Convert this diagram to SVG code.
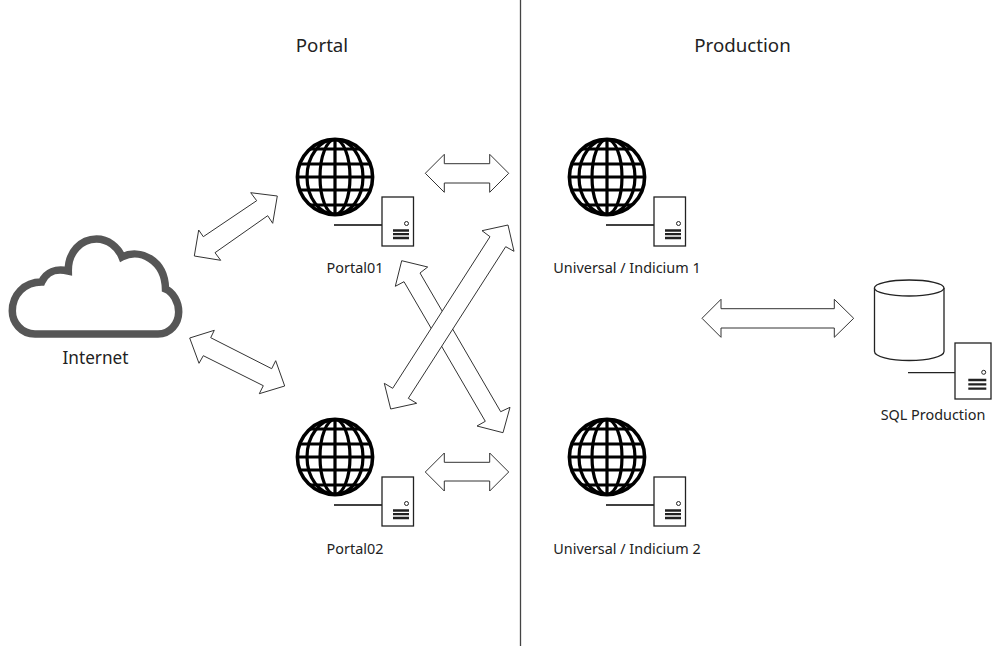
<svg xmlns="http://www.w3.org/2000/svg" width="994" height="646" viewBox="0 0 994 646">
<style>
text{font-family:"Noto Sans","Open Sans",sans-serif;fill:#222;text-anchor:middle}
.lbl{font-size:14.4px}
.hdr{font-size:18.7px}
.arr{fill:#fff;stroke:#333;stroke-width:1}
.g{fill:none;stroke:#000;stroke-width:3.2}
.o{fill:none;stroke:#000;stroke-width:3.6}
.s{fill:#fff;stroke:#222;stroke-width:1.3}
.b{stroke:#222;stroke-width:2.3;fill:none}
</style>
<defs>
<g id="globe">
<circle class="o" cx="0" cy="0" r="37.6"/>
<ellipse class="g" cx="0" cy="0" rx="15" ry="37.5"/>
<ellipse class="g" cx="0" cy="0" rx="28" ry="37.5"/>
<path class="g" d="M0,-37.5V37.5M-37.5,0H37.5M-34,-13H34M-34,13H34M-25,-28H25M-25,28H25"/>
</g>
<g id="server">
<path d="M0,48H48" stroke="#000" stroke-width="1.3" fill="none"/>
<rect class="s" x="48" y="20" width="31.5" height="49"/>
<circle cx="72.5" cy="46.5" r="2" fill="#fff" stroke="#222" stroke-width="1"/>
<path class="b" d="M59,53.5H75M59,57.2H75M59,61H75"/>
</g>
</defs>
<path d="M520.5,0V646" stroke="#444" stroke-width="1.3" fill="none"/>
<g id="connectors">
<polygon class="arr" points="277.3,196 250.7,192.7 256.7,200.7 203.3,236.7 198.7,230 194.3,256 220.7,260.3 215,252.7 267.7,215.7 272.7,223.3"/>
<polygon class="arr" points="189.7,338 214.3,330.3 210.7,337.7 271.7,368.7 275.7,360.7 284.7,386 259.3,393.7 263.3,385.7 203.3,355.7 199,363.3"/>
<polygon class="arr" points="425.3,173.3 444.3,154.3 444.3,163.7 489.7,163.7 489.7,154.3 508.7,173.3 489.7,192.3 489.7,183 444.3,183 444.3,192.3"/>
<polygon class="arr" points="425.3,472 444.3,453 444.3,462.3 489.7,462.3 489.7,453 508.7,472 489.7,491 489.7,481 444.3,481 444.3,491"/>
<polygon class="arr" points="401.7,260.7 427.7,267 420,273 500.7,411.7 510,407.3 503,432.7 477,426 485.3,421.3 404,281.7 395.3,286.3"/>
<polygon class="arr" points="508,225 514,251.3 505.7,246.7 408.3,398.3 416.7,403.3 390.7,409 384.3,383.3 392.7,388.3 490,236.7 482,230.7"/>
<polygon class="arr" points="702,318.3 721,299.3 721,308.7 834.3,308.7 834.3,299.3 853.7,318.3 834.3,337.3 834.3,328 721,328 721,337.3"/>
</g>
<g id="internet">
<path d="M35,334C21,334 12.3,322 12.3,311C12.3,295 24,282 41.7,282C46,272 56,268 68.3,271C68,252 81,239 96.5,239C108,239 118,247 122,257C140,248 165,260 165.5,289C173,292 178.7,302 178.7,312C178.5,324 170,334 158,334Z" fill="#fff" stroke="#565656" stroke-width="7.5"/>
<text x="95.5" y="363.5" style="font-size:17.2px">Internet</text>
</g>
<g id="portal01">
<use href="#globe" x="335" y="177"/>
<use href="#server" x="334" y="177"/>
<text class="lbl" x="355" y="272.5">Portal01</text>
</g>
<g id="portal02">
<use href="#globe" x="335" y="457"/>
<use href="#server" x="334" y="457"/>
<text class="lbl" x="355" y="553.5">Portal02</text>
</g>
<g id="universal1">
<use href="#globe" x="607" y="177"/>
<use href="#server" x="606" y="177"/>
<text class="lbl" x="627" y="272.5">Universal / Indicium 1</text>
</g>
<g id="universal2">
<use href="#globe" x="607" y="457"/>
<use href="#server" x="606" y="457"/>
<text class="lbl" x="627" y="553.5">Universal / Indicium 2</text>
</g>
<g id="sql">
<path d="M874.5,288V351.5C874.5,356.5 890,360.5 909.2,360.5C928.5,360.5 944,356.5 944,351.5V288" fill="#fff" stroke="#222" stroke-width="1.3"/>
<ellipse cx="909.2" cy="288" rx="34.8" ry="8" fill="#fff" stroke="#222" stroke-width="1.3"/>
<path d="M908,372.7H955" stroke="#222" stroke-width="1.3" fill="none"/>
<rect class="s" x="955" y="343" width="36" height="56"/>
<circle cx="983.7" cy="372.3" r="2" fill="#fff" stroke="#222" stroke-width="1"/>
<path class="b" d="M968.3,380H986.3M968.3,384.3H986.3M968.3,388.7H986.3"/>
<text class="lbl" x="933" y="419.5">SQL Production</text>
</g>
<text class="hdr" x="322" y="52">Portal</text>
<text class="hdr" x="742.5" y="52">Production</text>
</svg>
